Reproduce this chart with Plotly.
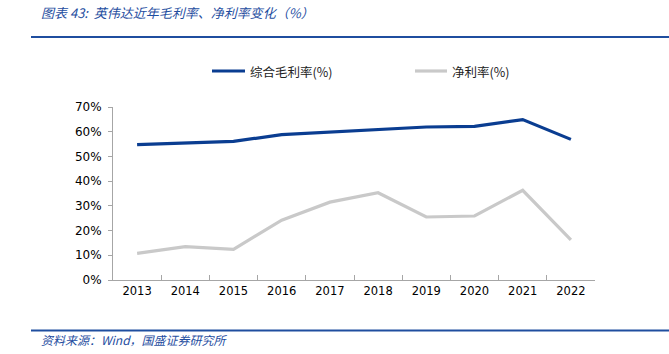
import plotly.graph_objects as go

years = ["2013", "2014", "2015", "2016", "2017", "2018", "2019", "2020", "2021", "2022"]
gross_margin = [54.8, 55.5, 56.1, 58.8, 59.8, 61.0, 61.9, 62.2, 64.9, 56.9]
net_margin = [10.8, 13.5, 12.4, 24.2, 31.5, 35.3, 25.5, 25.9, 36.3, 16.2]
name_gross = "综合毛利率(%)"
name_net = "净利率(%)"
title = "图表 43:  英伟达近年毛利率、净利率变化（%）"
source = "资料来源：Wind，国盛证券研究所"

W, H = 669, 354
L, R, T, B = 113, 595, 107, 280

def px(x):
    return (x - L) / (R - L)

def py(y):
    return (B - y) / (B - T)

BLUE = "#0A3D91"
GRAY = "#C9C9C9"
HDR = "#1F4E9F"

fig = go.Figure()
fig.add_trace(go.Scatter(x=years, y=gross_margin, mode="lines", name=name_gross,
                         line=dict(color=BLUE, width=3.2)))
fig.add_trace(go.Scatter(x=years, y=net_margin, mode="lines", name=name_net,
                         line=dict(color=GRAY, width=3.2)))

fig.update_layout(
    width=W, height=H,
    margin=dict(l=L, r=W - R, t=T, b=H - B),
    paper_bgcolor="white", plot_bgcolor="white",
    showlegend=False,
    font=dict(family="DejaVu Sans", size=11.5, color="#000000"),
)
fig.update_xaxes(type="category", showgrid=False, showline=True, linecolor="#A6A6A6",
                 linewidth=1, ticks="inside", tickson="boundaries", ticklen=5,
                 tickcolor="#A6A6A6", tickfont=dict(family="DejaVu Sans", size=11.5, color="#000"),
                 range=[-0.5, 9.5], fixedrange=True)
fig.update_yaxes(range=[0, 70], dtick=10, ticksuffix="%", showgrid=False, showline=True,
                 linecolor="#A6A6A6", linewidth=1, ticks="outside", ticklen=4,
                 tickcolor="#A6A6A6", zeroline=False, ticklabelstandoff=4,
                 tickfont=dict(family="DejaVu Sans", size=12, color="#000"))

shapes = []
# header and footer lines
shapes.append(dict(type="line", xref="paper", yref="paper", x0=px(31), x1=px(669),
                   y0=py(37), y1=py(37), line=dict(color=HDR, width=2.2)))
shapes.append(dict(type="line", xref="paper", yref="paper", x0=px(31), x1=px(669),
                   y0=py(330.5), y1=py(330.5), line=dict(color=HDR, width=2.2)))
# legend lines
shapes.append(dict(type="line", xref="paper", yref="paper", x0=px(212), x1=px(245),
                   y0=py(71), y1=py(71), line=dict(color=BLUE, width=3.2)))
shapes.append(dict(type="line", xref="paper", yref="paper", x0=px(415), x1=px(447),
                   y0=py(71), y1=py(71), line=dict(color=GRAY, width=3.2)))
fig.update_layout(shapes=shapes)

cjk = "Noto Sans CJK SC"
ann = []
ann.append(dict(text="<i>" + title + "</i>", xref="paper", yref="paper", x=px(39), y=py(13),
                xanchor="left", yanchor="middle", showarrow=False,
                font=dict(family=cjk, size=13, color=HDR)))
ann.append(dict(text="<i>" + source + "</i>", xref="paper", yref="paper", x=px(39), y=py(339),
                xanchor="left", yanchor="middle", showarrow=False,
                font=dict(family=cjk, size=12, color=HDR)))
ann.append(dict(text=name_gross, xref="paper", yref="paper", x=px(248), y=py(71),
                xanchor="left", yanchor="middle", showarrow=False,
                font=dict(family=cjk, size=12.5, color="#222")))
ann.append(dict(text=name_net, xref="paper", yref="paper", x=px(450), y=py(71),
                xanchor="left", yanchor="middle", showarrow=False,
                font=dict(family=cjk, size=12.5, color="#222")))
fig.update_layout(annotations=ann)

fig.write_html("out.html")
